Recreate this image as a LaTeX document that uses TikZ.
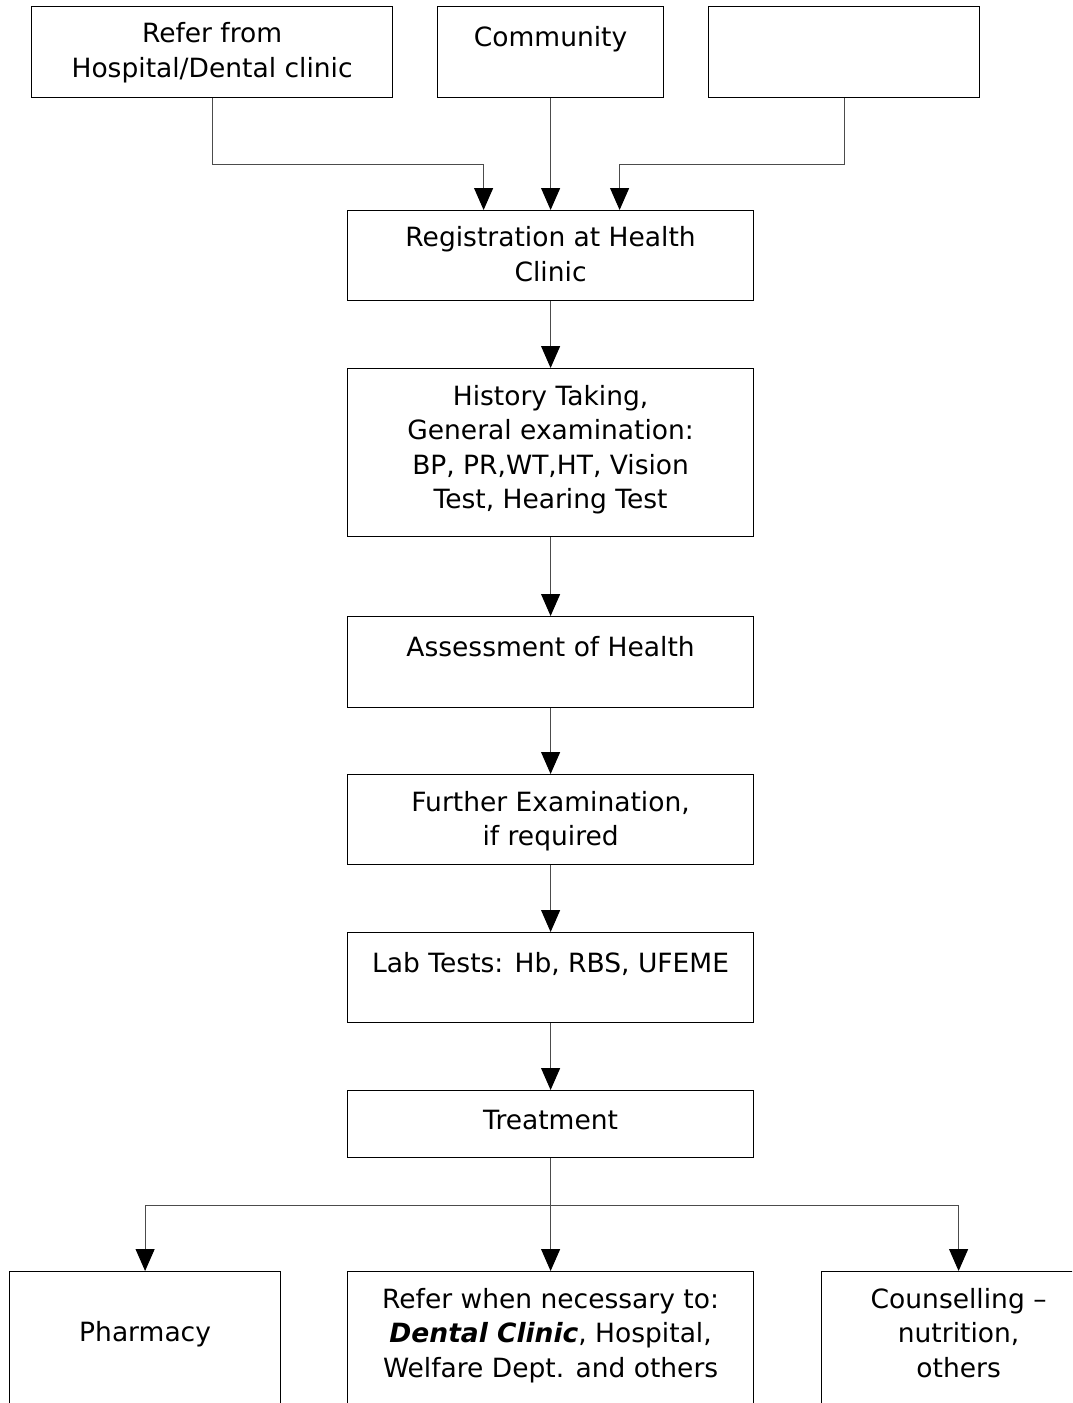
\documentclass[tikz,border=0pt]{standalone}
\usepackage{fontspec}
\setmainfont{DejaVu Sans}
\usetikzlibrary{arrows.meta}
\newcommand\bxt[4]{\parbox[c][#2pt][t]{#1pt}{\centering\rule{0pt}{#3pt}#4\par}}
\begin{document}
\begin{tikzpicture}[x=1pt,y=-1pt,
  box/.style={draw=black,line width=1.2pt,inner sep=0pt,anchor=north west,
    font=\fontsize{26.5}{34.5}\selectfont},
  conn/.style={draw=black!70,line width=1pt},
  arr/.style={conn,-{Triangle[width=19pt,length=22pt,color=black,fill=black]}}]
\clip (0,0) rectangle (1072,1403);
\fill[white] (0,0) rectangle (1072,1403);
% top sources
\node[box] (b1) at (31,6) {\bxt{361}{91}{36}{Refer from\\Hospital/Dental clinic}};
\node[box] (b2) at (437,6) {\bxt{226}{91}{39.5}{Community}};
\node[box] (b3) at (708,6) {\bxt{271}{91}{36}{}};
% main chain
\node[box] (reg) at (347,210) {\bxt{406}{90}{36}{Registration at Health\\Clinic}};
\node[box] (hist) at (347,368) {\bxt{406}{168}{36.5}{History Taking,\\ General examination:\\BP, PR,WT,HT, Vision\\Test, Hearing Test}};
\node[box] (asse) at (347,616) {\bxt{406}{91}{39.5}{Assessment of Health}};
\node[box] (fur) at (347,774) {\bxt{406}{90}{36.5}{Further Examination,\\ if required}};
\node[box] (lab) at (347,932) {\bxt{406}{90}{39.5}{Lab Tests: Hb, RBS, UFEME}};
\node[box] (treat) at (347,1090) {\bxt{406}{67}{38.5}{Treatment}};
% outcomes
\node[box] (ph) at (9,1271) {\bxt{271}{200}{69.5}{Pharmacy}};
\node[box] (ref) at (347,1271) {\bxt{406}{200}{36.5}{Refer when necessary to:\\\textbf{\textit{Dental Clinic}}, Hospital,\\Welfare Dept. and others}};
\node[box] (cou) at (821,1271) {\bxt{274}{200}{36.5}{Counselling –\\nutrition,\\others}};
% connectors
\draw[arr] (b1.south) -- ++(0,66) -| ([xshift=-67pt]reg.north);
\draw[arr] (b2.south) -- (reg.north);
\draw[arr] (b3.south) -- ++(0,66) -| ([xshift=69pt]reg.north);
\draw[arr] (reg) -- (hist);
\draw[arr] (hist) -- (asse);
\draw[arr] (asse) -- (fur);
\draw[arr] (fur) -- (lab);
\draw[arr] (lab) -- (treat);
\draw[arr] (treat) -- (ref);
\coordinate (br) at ([yshift=-47pt]treat.south);
\draw[arr] (br) -| (ph.north);
\draw[arr] (br) -| (cou.north);
\end{tikzpicture}
\end{document}
